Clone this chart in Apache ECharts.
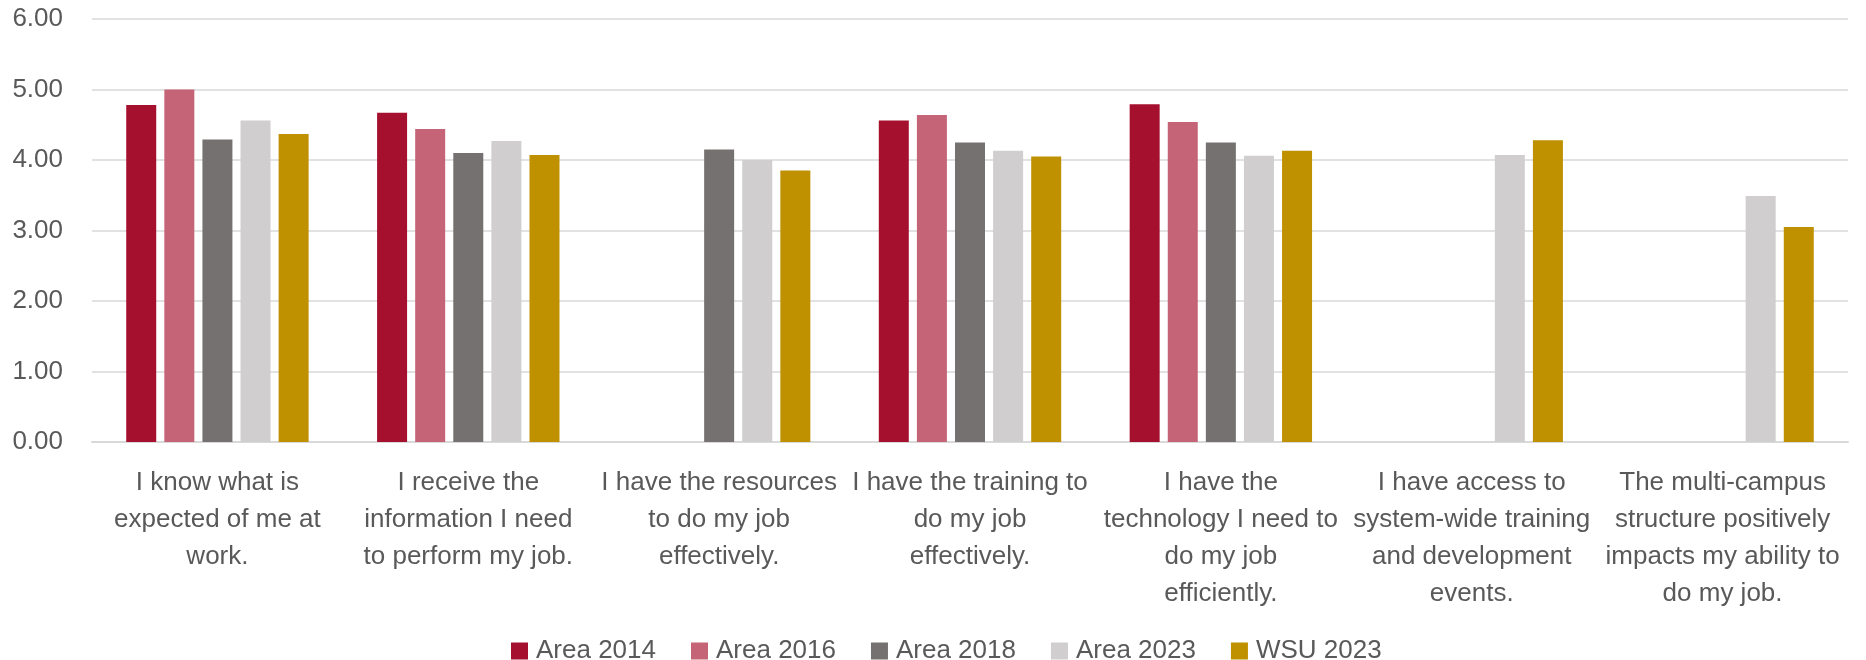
<!DOCTYPE html>
<html>
<head>
<meta charset="utf-8">
<script src="https://cdn.jsdelivr.net/npm/echarts@6/dist/echarts.min.js"></script>
<style>
html,body{margin:0;padding:0;background:#fff;}
#chart{width:1866px;height:660px;}
</style>
</head>
<body>
<div id="chart"></div>
<script>
var categories = [
  "I know what is\nexpected of me at\nwork.",
  "I receive the\ninformation I need\nto perform my job.",
  "I have the resources\nto do my job\neffectively.",
  "I have the training to\ndo my job\neffectively.",
  "I have the\ntechnology I need to\ndo my job\nefficiently.",
  "I have access to\nsystem-wide training\nand development\nevents.",
  "The multi-campus\nstructure positively\nimpacts my ability to\ndo my job."
];
var area2014 = [4.78, 4.67, null, 4.56, 4.79, null, null];
var area2016 = [5.00, 4.44, null, 4.64, 4.54, null, null];
var area2018 = [4.29, 4.10, 4.15, 4.25, 4.25, null, null];
var area2023 = [4.56, 4.27, 4.00, 4.13, 4.06, 4.07, 3.49];
var wsu2023  = [4.37, 4.07, 3.85, 4.05, 4.13, 4.28, 3.05];
var seriesNames = ["Area 2014", "Area 2016", "Area 2018", "Area 2023", "WSU 2023"];
var seriesData = [area2014, area2016, area2018, area2023, wsu2023];
var colors = ["#A6102F", "#C56476", "#767171", "#D0CECE", "#BF9000"];

var font = "'Liberation Sans', Arial, sans-serif";
var chart = echarts.init(document.getElementById('chart'));
chart.setOption({
  animation: false,
  color: colors,
  textStyle: {fontFamily: font},
  grid: {left: 92, right: 18, top: 19, bottom: 218},
  legend: {
    top: 633, left: 506,
    itemWidth: 17, itemHeight: 17, itemGap: 35,
    icon: 'rect',
    textStyle: {fontSize: 26, color: '#595959', fontFamily: font, padding: [0, 0, 0, 3]},
    data: seriesNames
  },
  xAxis: {
    type: 'category',
    data: categories,
    axisLine: {lineStyle: {color: '#D9D9D9', width: 2}},
    axisTick: {show: false},
    axisLabel: {
      interval: 0, margin: 22, fontSize: 26, lineHeight: 37,
      color: '#595959', fontFamily: font, align: 'center'
    }
  },
  yAxis: {
    type: 'value', min: 0, max: 6, interval: 1,
    axisLine: {show: false},
    axisTick: {show: false},
    splitLine: {lineStyle: {color: '#D9D9D9', width: 1.5}},
    axisLabel: {
      margin: 29, fontSize: 26, color: '#595959', fontFamily: font,
      formatter: function (v) { return v.toFixed(2); }
    }
  },
  series: seriesNames.map(function (n, i) {
    return {
      name: n, type: 'bar', data: seriesData[i],
      barWidth: 30, barGap: '27%'
    };
  })
});
</script>
</body>
</html>
